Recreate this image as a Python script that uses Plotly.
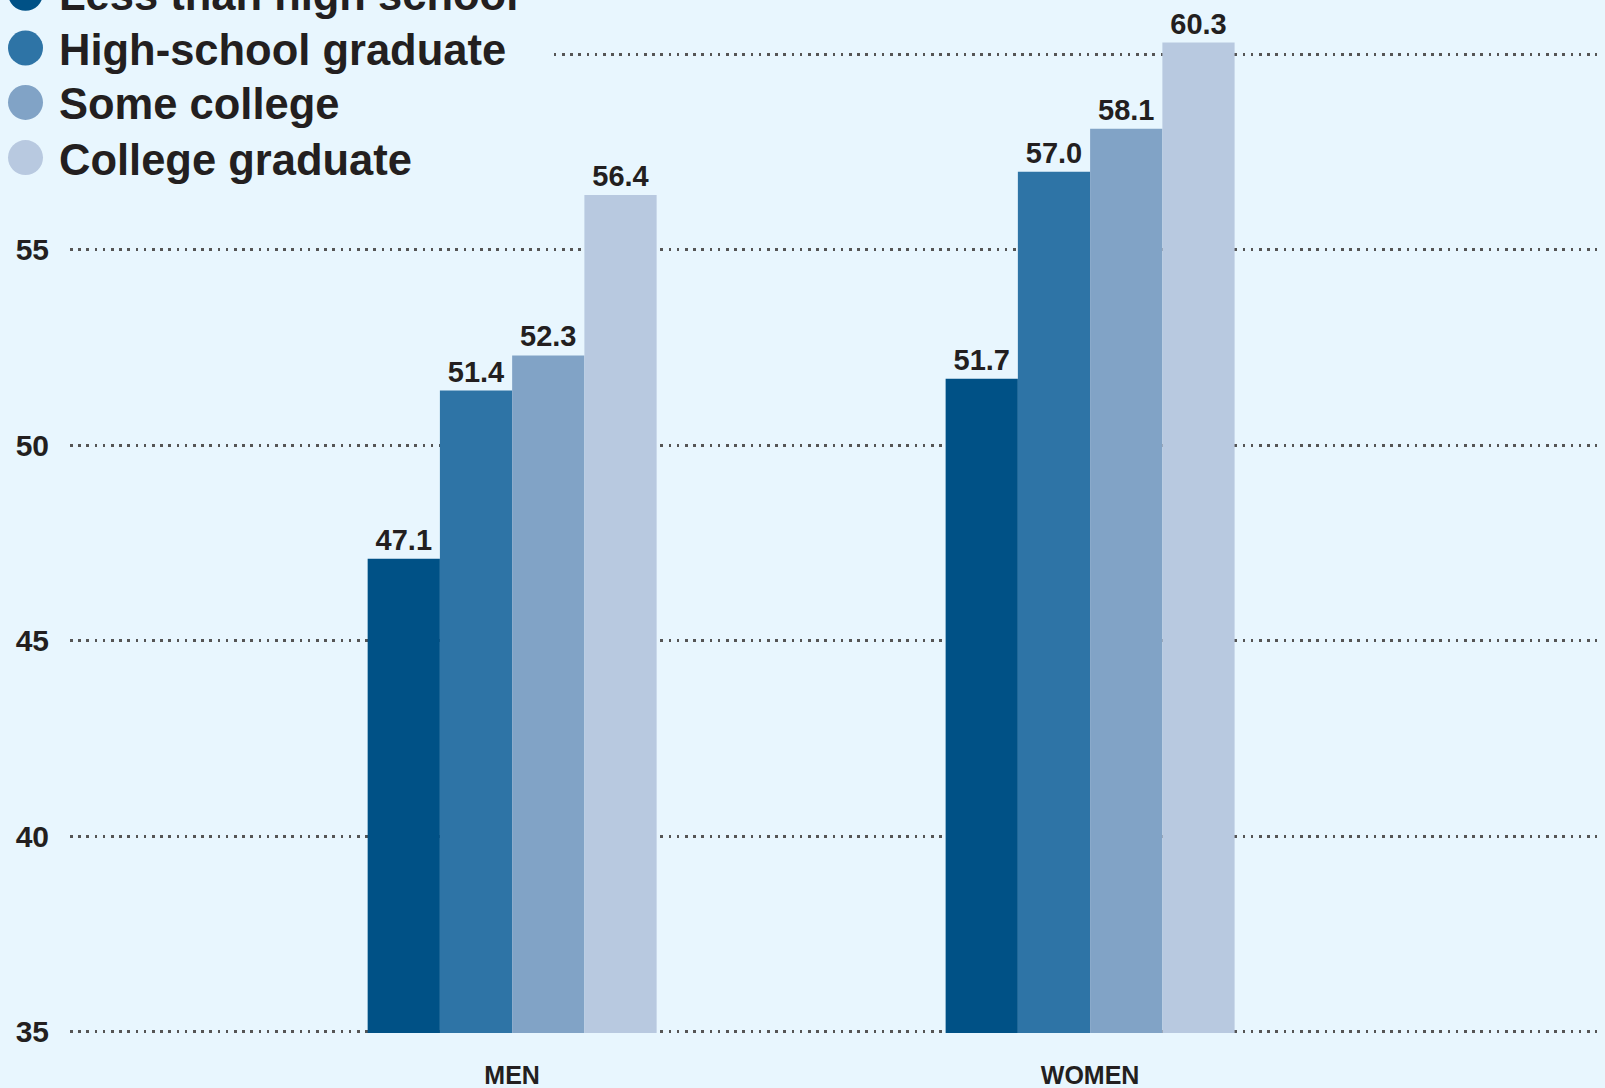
import plotly.graph_objects as go

categories = ["MEN", "WOMEN"]
series_names = ["Less than high school", "High-school graduate", "Some college", "College graduate"]
less_than_hs = [47.1, 51.7]
hs_graduate = [51.4, 57.0]
some_college = [52.3, 58.1]
college_grad = [56.4, 60.3]
tick_values = [35, 40, 45, 50, 55, 60]
tick_labels = ["35", "40", "45", "50", "55", ""]

series_values = [less_than_hs, hs_graduate, some_college, college_grad]
colors = ["#005186", "#2E74A6", "#81A3C6", "#B8C9E0"]
BG = "#E8F6FE"
TXT = "#231F20"
FONT = "Liberation Sans"

W, H = 1605, 1088
ML, MR, MT, MB = 70, 8, 0, 55
PW, PH = W - ML - MR, H - MT - MB


def px_x(p):
    return (p - ML) / PW


def px_y(p):
    return 1 - (p - MT) / PH


fig = go.Figure()
for name, vals, col in zip(series_names, series_values, colors):
    fig.add_trace(go.Bar(
        x=categories, y=vals, name=name,
        marker=dict(color=col, line=dict(width=0)),
        text=[f"{v:.1f}" for v in vals],
        textposition="outside",
        textfont=dict(family=FONT, size=29, color=TXT, weight="bold"),
        cliponaxis=False,
        showlegend=False,
    ))

shapes = []
annotations = []
# cover the top gridline behind the legend block
shapes.append(dict(type="rect", xref="paper", yref="paper",
                   x0=px_x(0), x1=px_x(548), y0=px_y(66), y1=px_y(38),
                   fillcolor=BG, line=dict(width=0), layer="above"))
row_y = [-6.7, 48, 102.4, 157.6]
for name, col, ry in zip(series_names, colors, row_y):
    shapes.append(dict(type="circle", xref="paper", yref="paper",
                       x0=px_x(8), x1=px_x(43), y0=px_y(ry + 17.5), y1=px_y(ry - 17.5),
                       fillcolor=col, line=dict(width=0), layer="above"))
    annotations.append(dict(xref="paper", yref="paper", x=px_x(57), y=px_y(ry + 2),
                            xanchor="left", yanchor="middle", showarrow=False,
                            text=name,
                            font=dict(family=FONT, size=43.5, color=TXT, weight="bold")))

fig.update_layout(
    width=W, height=H,
    margin=dict(l=ML, r=MR, t=MT, b=MB, pad=0),
    paper_bgcolor=BG, plot_bgcolor=BG,
    barmode="group", bargap=0.5, bargroupgap=0,
    shapes=shapes, annotations=annotations,
    showlegend=False,
    xaxis=dict(type="category", range=[-0.765, 1.877], showgrid=False, showline=False,
               zeroline=False, ticks="", ticklabelstandoff=25,
               tickfont=dict(family=FONT, size=25, color=TXT, weight="bold")),
    yaxis=dict(range=[34.97, 61.39], tickvals=tick_values, ticktext=tick_labels,
               showgrid=True, gridcolor="#555555", gridwidth=2.5, griddash="2.5px,5.7px",
               zeroline=False, showline=False, ticks="", ticklabelstandoff=20,
               tickfont=dict(family=FONT, size=30, color=TXT, weight="bold")),
)

fig.write_html("out.html", config={"displayModeBar": False},
               post_script="document.body.style.margin='0';document.body.style.background='%s';" % BG)
